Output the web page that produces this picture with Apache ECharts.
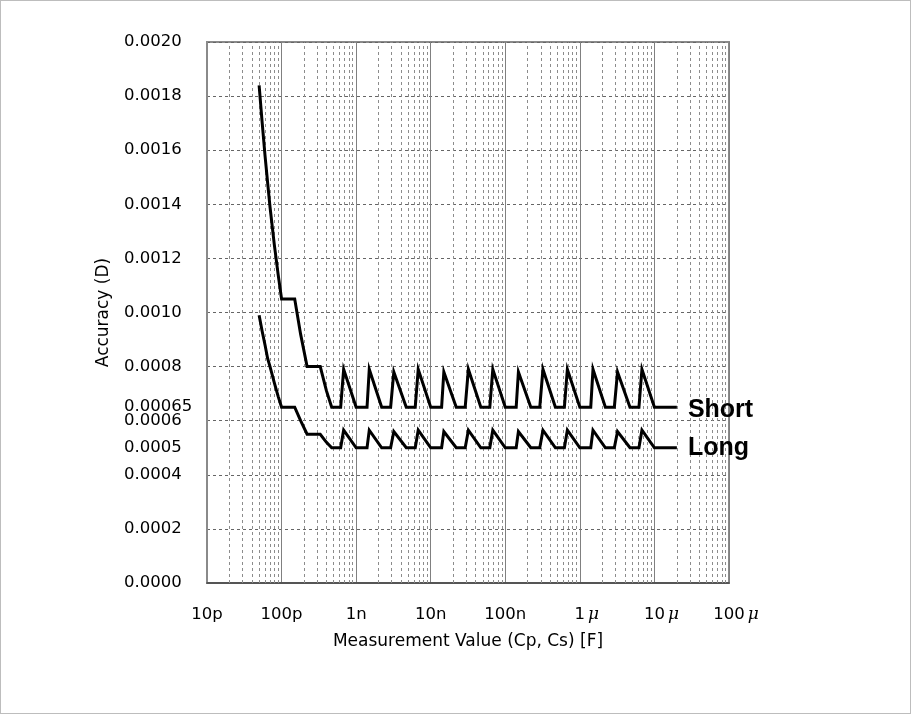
<!DOCTYPE html>
<html>
<head>
<meta charset="utf-8">
<script src="https://cdn.jsdelivr.net/npm/echarts@6/dist/echarts.min.js"></script>
<style>
  html, body { margin: 0; padding: 0; background: #fff; }
  #chart { width: 911px; height: 714px; box-sizing: border-box; border: 1px solid #bdbdbd; }
</style>
</head>
<body>
<div id="chart"></div>
<script>
// x values in pF
const capPF = [
  50, 55, 60, 65, 70, 80, 90, 100, 150, 180, 220, 330, 400, 470,
  620, 680, 1000, 1400, 1500, 2200, 2900, 3200, 4700, 6200, 6800, 10000,
  14000, 15000, 22000, 29000, 32000, 47000, 62000, 68000, 100000,
  140000, 150000, 220000, 290000, 320000, 470000, 620000, 680000, 1000000,
  1400000, 1500000, 2200000, 2900000, 3200000, 4700000, 6200000, 6800000, 10000000,
  20000000
]

const shortD = [
  0.00184, 0.00170, 0.00158, 0.00148, 0.00139, 0.00125, 0.00114, 0.00105, 0.00105, 0.00092, 0.00080, 0.00080, 0.00071, 0.00065,
  0.00065, 0.00079, 0.00065, 0.00065, 0.00079, 0.00065, 0.00065, 0.00078, 0.00065, 0.00065, 0.00079, 0.00065,
  0.00065, 0.00078, 0.00065, 0.00065, 0.00079, 0.00065, 0.00065, 0.00079, 0.00065,
  0.00065, 0.00078, 0.00065, 0.00065, 0.00079, 0.00065, 0.00065, 0.00079, 0.00065,
  0.00065, 0.00079, 0.00065, 0.00065, 0.00078, 0.00065, 0.00065, 0.00079, 0.00065,
  0.00065
]

const longD = [
  0.00099, 0.00093, 0.00088, 0.00083, 0.00080, 0.00074, 0.00069, 0.00065, 0.00065, 0.00060, 0.00055, 0.00055, 0.00052, 0.00050,
  0.00050, 0.000565, 0.00050, 0.00050, 0.000565, 0.00050, 0.00050, 0.00056, 0.00050, 0.00050, 0.000565, 0.00050,
  0.00050, 0.00056, 0.00050, 0.00050, 0.000565, 0.00050, 0.00050, 0.000565, 0.00050,
  0.00050, 0.00056, 0.00050, 0.00050, 0.000565, 0.00050, 0.00050, 0.000565, 0.00050,
  0.00050, 0.000565, 0.00050, 0.00050, 0.00056, 0.00050, 0.00050, 0.000565, 0.00050,
  0.00050
]

const xTickLabels = ['10p', '100p', '1n', '10n', '100n', '1μ', '10μ', '100μ']
const yTickValues = [0, 0.0002, 0.0004, 0.0005, 0.0006, 0.00065, 0.0008, 0.0010, 0.0012, 0.0014, 0.0016, 0.0018, 0.0020]
const yRefLines = [0.0005, 0.00065]

const FONT = 'DejaVu Sans, sans-serif'
const BOLD_FONT = 'Liberation Sans, Arial, sans-serif'

// dashed minor grid at 2..9 of every decade
var minorLines = []
for (var d = 10; d < 1e8; d *= 10) {
  for (var m = 2; m <= 9; m++) minorLines.push({ xAxis: d * m })
}

var chart = echarts.init(document.getElementById('chart'), null, { renderer: 'canvas' })

chart.setOption({
  animation: false,
  grid: {
    left: 206, right: 181, top: 41, bottom: 130,
    show: true, borderColor: '#8a8a8a', borderWidth: 2
  },
  xAxis: {
    type: 'log',
    logBase: 10,
    min: 10,
    max: 1e8,
    name: 'Measurement Value (Cp, Cs) [F]',
    nameLocation: 'middle',
    nameGap: 50,
    nameTextStyle: { fontFamily: FONT, fontSize: 17, color: '#000' },
    axisLine: { lineStyle: { color: '#444', width: 1.5 } },
    axisTick: { show: false },
    axisLabel: {
      margin: 23,
      fontFamily: FONT,
      fontSize: 16.5,
      color: '#000',
      formatter: function (v) {
        var t = xTickLabels[Math.round(Math.log10(v)) - 1]
        // micro labels: italic mu, drawn a little to the right as in the original
        return t.indexOf('μ') >= 0 ? '{s|}' + t.replace('μ', '{m|μ}') : t
      },
      rich: {
        m: { fontFamily: 'DejaVu Serif', fontStyle: 'italic', fontSize: 17, color: '#000', padding: [0, 0, 0, 3] },
        s: { width: 14 }
      }
    },
    splitLine: { show: true, lineStyle: { color: '#808080', width: 1 } },
    minorSplitLine: { show: false }
  },
  yAxis: {
    type: 'value',
    min: 0,
    max: 0.002,
    interval: 0.0002,
    name: 'Accuracy (D)',
    nameLocation: 'middle',
    nameGap: 95,
    nameTextStyle: { fontFamily: FONT, fontSize: 17, color: '#000' },
    axisLine: { show: true, lineStyle: { color: '#8a8a8a', width: 2 } },
    axisTick: { show: false },
    axisLabel: {
      customValues: yTickValues,
      align: 'left',
      margin: 83,
      fontFamily: FONT,
      fontSize: 16.5,
      color: '#000',
      formatter: function (v) {
        return v === 0.00065 ? '0.00065' : v.toFixed(4)
      }
    },
    splitLine: { show: true, lineStyle: { color: '#666', width: 1, type: [3, 3] } }
  },
  series: [
    {
      name: 'grid',
      type: 'line',
      data: [],
      silent: true,
      z: 1,
      markLine: {
        silent: true,
        symbol: 'none',
        label: { show: false },
        lineStyle: { color: '#8c8c8c', width: 1, type: [3, 3] },
        data: minorLines
      }
    },
    {
      name: 'ref',
      type: 'line',
      data: [],
      silent: true,
      z: 1,
      markLine: {
        silent: true,
        symbol: 'none',
        label: { show: false },
        lineStyle: { color: '#555', width: 1.2, type: 'solid' },
        data: yRefLines.map(function (v) { return { yAxis: v } })
      }
    },
    {
      name: 'Short',
      type: 'line',
      z: 5,
      showSymbol: false,
      lineStyle: { color: '#000', width: 3, join: 'miter' },
      data: capPF.map(function (c, i) { return [c, shortD[i]] }),
      endLabel: {
        show: true,
        formatter: '{a}',
        distance: 11,
        offset: [0, 3],
        fontFamily: BOLD_FONT,
        fontWeight: 'bold',
        fontSize: 25,
        color: '#000'
      }
    },
    {
      name: 'Long',
      type: 'line',
      z: 5,
      showSymbol: false,
      lineStyle: { color: '#000', width: 3, join: 'miter' },
      data: capPF.map(function (c, i) { return [c, longD[i]] }),
      endLabel: {
        show: true,
        formatter: '{a}',
        distance: 11,
        fontFamily: BOLD_FONT,
        fontWeight: 'bold',
        fontSize: 25,
        color: '#000'
      }
    }
  ]
})
</script>
</body>
</html>
